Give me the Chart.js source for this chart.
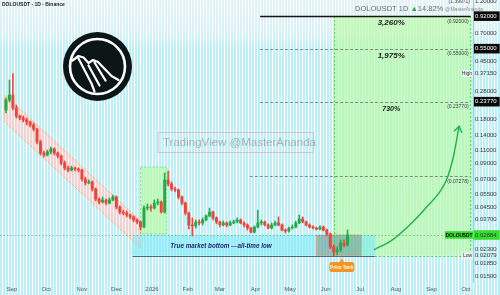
<!DOCTYPE html>
<html><head><meta charset="utf-8">
<script src="https://cdn.jsdelivr.net/npm/chart.js@4.4.1/dist/chart.umd.min.js"></script>
<style>html,body{margin:0;padding:0;background:#fff;}canvas{display:block;}</style>
</head><body>
<canvas id="c" width="500" height="295"></canvas>
<script>
// ---------- DATA ----------
const dates = ['2025-08-27','2025-08-30','2025-09-02','2025-09-05','2025-09-08','2025-09-11','2025-09-14','2025-09-17','2025-09-20','2025-09-23',
'2025-09-26','2025-09-29','2025-10-02','2025-10-05','2025-10-08','2025-10-11','2025-10-14','2025-10-17','2025-10-20','2025-10-23',
'2025-10-26','2025-10-29','2025-11-01','2025-11-04','2025-11-07','2025-11-10','2025-11-13','2025-11-16','2025-11-19','2025-11-22',
'2025-11-25','2025-11-28','2025-12-01','2025-12-04','2025-12-07','2025-12-10','2025-12-13','2025-12-16','2025-12-19','2025-12-22',
'2025-12-25','2025-12-28','2025-12-31','2026-01-03','2026-01-06','2026-01-09','2026-01-12','2026-01-15','2026-01-18','2026-01-21',
'2026-01-24','2026-01-27','2026-01-30','2026-02-02','2026-02-05','2026-02-08','2026-02-11','2026-02-14','2026-02-17','2026-02-20',
'2026-02-23','2026-02-26','2026-03-01','2026-03-04','2026-03-07','2026-03-10','2026-03-13','2026-03-16','2026-03-19','2026-03-22',
'2026-03-25','2026-03-28','2026-03-31','2026-04-03','2026-04-06','2026-04-09','2026-04-12','2026-04-15','2026-04-18','2026-04-21',
'2026-04-24','2026-04-27','2026-04-30','2026-05-03','2026-05-06','2026-05-09','2026-05-12','2026-05-15','2026-05-18','2026-05-21',
'2026-05-24','2026-05-27','2026-05-30','2026-06-02','2026-06-05','2026-06-08','2026-06-11','2026-06-14','2026-06-17','2026-06-20'];

const opens = [.2085,.2442,.2643,.2152,.1895,.1837,.1780,.1725,.1644,.1543,
.1257,.1056,.1023,.1073,.1125,.1056,.1007,.0901,.0833,.0807,
.0833,.0819,.0807,.0700,.0657,.0668,.0597,.0510,.0486,.0502,
.0478,.0502,.0526,.0449,.0415,.0408,.0396,.0384,.0366,.0355,
.0327,.0442,.0449,.0442,.0478,.0486,.0415,.0689,.0647,.0597,
.0588,.0526,.0478,.0408,.0338,.0333,.0355,.0349,.0366,.0390,
.0415,.0378,.0355,.0338,.0349,.0338,.0349,.0355,.0366,.0349,
.0338,.0322,.0302,.0327,.0349,.0355,.0338,.0322,.0338,.0349,
.0338,.0312,.0307,.0322,.0327,.0349,.0372,.0355,.0338,.0327,
.0322,.0317,.0327,.0312,.0293,.0239,.0221,.0228,.0254,.0246];

const highs = [.252,.335,.3715,.2256,.1926,.1895,.1837,.1752,.1697,.1568,
.1297,.1090,.1107,.1161,.1143,.1073,.1023,.0930,.0859,.0859,
.0846,.0833,.0819,.0722,.0689,.0678,.0607,.0518,.0526,.0510,
.0518,.0543,.0535,.0457,.0428,.0421,.0402,.0390,.0372,.0360,
.0457,.0471,.0464,.0502,.0510,.0494,.0770,.0794,.0668,.0616,
.0597,.0535,.0486,.0415,.0378,.0366,.0366,.0378,.0396,.0442,
.0421,.0384,.0360,.0360,.0355,.0360,.0366,.0378,.0372,.0355,
.0344,.0327,.0333,.0428,.0366,.0360,.0344,.0349,.0360,.0384,
.0344,.0317,.0327,.0338,.0360,.0396,.0384,.0360,.0344,.0333,
.0327,.0333,.0333,.0317,.0298,.0246,.0239,.0267,.0267,.0312];

const lows = [.1989,.2366,.2085,.1837,.1780,.1725,.1644,.1593,.1495,.1217,
.1023,.0991,.1007,.1040,.1023,.0976,.0873,.0807,.0782,.0794,
.0794,.0782,.0678,.0636,.0647,.0579,.0494,.0471,.0478,.0464,
.0471,.0494,.0435,.0402,.0396,.0384,.0372,.0355,.0344,.0312,
.0322,.0428,.0421,.0435,.0464,.0408,.0408,.0626,.0579,.0570,
.0510,.0464,.0396,.0317,.0284,.0322,.0338,.0338,.0360,.0384,
.0366,.0344,.0327,.0333,.0327,.0333,.0344,.0349,.0344,.0327,
.0312,.0298,.0298,.0322,.0338,.0333,.0317,.0317,.0333,.0333,
.0307,.0298,.0302,.0317,.0322,.0344,.0349,.0333,.0322,.0317,
.0312,.0312,.0307,.0284,.0233,.02079,.0210,.0221,.0239,.0242];

const closes = [.2442,.2643,.2152,.1895,.1837,.1780,.1725,.1644,.1543,.1257,
.1056,.1023,.1073,.1125,.1056,.1007,.0901,.0833,.0807,.0833,
.0819,.0807,.0700,.0657,.0668,.0597,.0510,.0486,.0502,.0478,
.0502,.0526,.0449,.0415,.0408,.0396,.0384,.0366,.0355,.0327,
.0442,.0449,.0442,.0478,.0486,.0415,.0689,.0647,.0597,.0588,
.0526,.0478,.0408,.0338,.0333,.0355,.0349,.0366,.0390,.0415,
.0378,.0355,.0338,.0349,.0338,.0349,.0355,.0366,.0349,.0338,
.0322,.0302,.0327,.0349,.0355,.0338,.0322,.0338,.0349,.0338,
.0312,.0307,.0322,.0327,.0349,.0372,.0355,.0338,.0327,.0322,
.0317,.0327,.0312,.0293,.0239,.0221,.0228,.0254,.0246,.02884];

const priceTicks = [0.92,0.7,0.55,0.45,0.3715,0.28,0.2377,0.18,0.14,0.11,0.09,0.07,0.055,0.045,0.037,0.02884,0.023,0.02079,0.0185,0.015];
const darkTicks = [0.92,0.55,0.2377];
const lastPrice = 0.02884;
const allTimeHigh = 0.3715;
const allTimeLow = 0.02079;
const monthDates = ['2025-09-01','2025-10-01','2025-11-01','2025-12-01','2026-01-01','2026-02-01','2026-03-01','2026-04-01','2026-05-01','2026-06-01','2026-07-01','2026-08-01','2026-09-01','2026-10-01'];
const monthLabels = ['Sep','Oct','Nov','Dec','2026','Feb','Mar','Apr','May','Jun','Jul','Aug','Sep','Oct'];

const channelDates = ['2025-08-26','2025-12-22'];
const channelTop = [0.264,0.0360];
const channelBottom = [0.1725,0.0235];
const greenBoxDates = ['2025-12-22','2026-01-14'];
const greenBoxRange = [0.0846,0.0293];
const bottomBoxDates = ['2025-12-15','2026-07-14'];
const bottomBoxRange = [0.02884,0.02079];
const greyBoxDates = ['2026-05-24','2026-07-02'];
const targetDates = ['2026-06-08','2026-10-05'];
const targetRange = [0.92,0.02079];
const fibLevels = [0.92,0.55,0.2377,0.07278];
const fibStarts = ['2026-04-05','2026-04-05','2026-04-05','2026-03-27'];
const fibGains = ['3,260%','1,975%','730%',''];
const gainDate = '2026-07-28';
const arrowDates = ['2026-07-13','2026-07-29','2026-08-13','2026-08-27','2026-09-14','2026-09-20','2026-09-25'];
const arrowValues = [0.0228,0.0267,0.0338,0.0442,0.0689,0.0991,0.1613];
const bottomText = 'True market bottom \u2014all-time low';
const bottomTextDate = '2026-03-02';
const tankDate = '2026-06-15';
const tankValue = 0.01738;

// ---------- helpers ----------
const DAY0 = Date.UTC(2025,8,1);
function dayOf(s){const p=s.split('-').map(Number);return (Date.UTC(p[0],p[1]-1,p[2])-DAY0)/864e5;}
const FONT = '"Liberation Sans", Arial, sans-serif';
const UP = '#22ab4a', DOWN = '#f0433a';
const candleColors = closes.map((c,i)=> c>=opens[i]?UP:DOWN);

const bgPlugin = {
  id:'bg',
  beforeDraw(chart){
    const ctx=chart.ctx, W=chart.width, H=chart.height;
    ctx.save();
    ctx.fillStyle='#ffffff'; ctx.fillRect(0,0,W,H);
    const g=ctx.createLinearGradient(0,0,0,H);
    g.addColorStop(0,'rgba(200,232,240,0.55)');
    g.addColorStop(0.11,'rgba(200,238,245,0.75)');
    g.addColorStop(0.16,'rgba(188,240,247,1)');
    g.addColorStop(1,'rgba(186,240,248,1)');
    ctx.fillStyle=g;
    for(let x=0;x<W;x+=3){ctx.fillRect(x,0,2,H);}
    ctx.restore();
  }
};

function PX(chart){const xs=chart.scales.x, ys=chart.scales.y;return {X:d=>xs.getPixelForValue(dayOf(d)),Y:v=>ys.getPixelForValue(v)};}

const shapesPlugin = {
  id:'shapes',
  beforeDatasetsDraw(chart){
    const ctx=chart.ctx, a=chart.chartArea, {X,Y}=PX(chart);
    ctx.save();
    ctx.beginPath(); ctx.rect(a.left,a.top,a.right-a.left,a.bottom-a.top); ctx.clip();
    let x1=X(targetDates[0]), x2=X(targetDates[1]), y1=Y(targetRange[0]), y2=Y(targetRange[1]);
    ctx.fillStyle='rgba(182,250,158,0.6)'; ctx.fillRect(x1,y1,x2-x1,y2-y1);
    // channel
    ctx.save();
    ctx.beginPath();
    ctx.moveTo(X(channelDates[0]),Y(channelTop[0]));
    ctx.lineTo(X(channelDates[1]),Y(channelTop[1]));
    ctx.lineTo(X(channelDates[1]),Y(channelBottom[1]));
    ctx.lineTo(X(channelDates[0]),Y(channelBottom[0]));
    ctx.closePath();
    ctx.fillStyle='rgba(246,206,206,0.85)'; ctx.fill();
    ctx.strokeStyle='rgba(255,165,90,0.85)'; ctx.lineWidth=0.8; ctx.stroke();
    ctx.clip();
    ctx.fillStyle='rgba(255,250,248,0.75)';
    for(let x=2;x<250;x+=3){ctx.fillRect(x,0,1,a.bottom);}
    ctx.restore();
    // green box
    x1=X(greenBoxDates[0]); x2=X(greenBoxDates[1]); y1=Y(greenBoxRange[0]); y2=Y(greenBoxRange[1]);
    ctx.fillStyle='rgba(185,250,165,0.7)'; ctx.fillRect(x1,y1,x2-x1,y2-y1);
    ctx.setLineDash([2,2]); ctx.strokeStyle='rgba(80,200,80,0.8)'; ctx.lineWidth=0.8; ctx.strokeRect(x1,y1,x2-x1,y2-y1); ctx.setLineDash([]);
    // bottom box
    x1=X(bottomBoxDates[0]); x2=X(bottomBoxDates[1]); y1=Y(bottomBoxRange[0]); y2=Y(bottomBoxRange[1]);
    ctx.fillStyle='rgba(120,232,250,0.55)'; ctx.fillRect(x1,y1,x2-x1,y2-y1);
    ctx.strokeStyle='#56657e'; ctx.lineWidth=1; ctx.beginPath(); ctx.moveTo(x1,Math.round(y2)+0.5); ctx.lineTo(x2,Math.round(y2)+0.5); ctx.stroke();
    // grey box
    x1=X(greyBoxDates[0]); x2=X(greyBoxDates[1]);
    ctx.fillStyle='rgba(115,110,90,0.38)'; ctx.fillRect(x1,y1,x2-x1,y2-y1);
    ctx.strokeStyle='rgba(230,150,110,0.7)'; ctx.lineWidth=0.8; ctx.strokeRect(x1,y1,x2-x1,y2-y1);
    // target borders
    x1=X(targetDates[0]); x2=X(targetDates[1]); const yb=Y(targetRange[1]), yt=Y(targetRange[0]);
    ctx.setLineDash([2,2]); ctx.strokeStyle='rgba(60,205,60,0.85)'; ctx.lineWidth=1;
    ctx.beginPath(); ctx.moveTo(Math.round(x1)+0.5,yt); ctx.lineTo(Math.round(x1)+0.5,yb);
    ctx.moveTo(Math.round(x2)-0.5,yt); ctx.lineTo(Math.round(x2)-0.5,yb);
    ctx.moveTo(X(bottomBoxDates[1]),Math.round(yb)+0.5); ctx.lineTo(x2,Math.round(yb)+0.5); ctx.stroke();
    fibLevels.forEach((lv,i)=>{
      const y=Math.round(Y(lv))+0.5, xs=X(fibStarts[i]);
      if(i===0){ctx.setLineDash([]); ctx.strokeStyle='#151515'; ctx.lineWidth=1.5;}
      else {ctx.setLineDash([3,2]); ctx.strokeStyle='rgba(90,90,90,0.85)'; ctx.lineWidth=0.8;}
      ctx.beginPath(); ctx.moveTo(xs,y); ctx.lineTo(x2,y); ctx.stroke();
    });
    ctx.setLineDash([1.5,2]); ctx.strokeStyle='rgba(70,170,80,0.8)'; ctx.lineWidth=0.8;
    const yp=Math.round(Y(lastPrice))+0.5;
    ctx.beginPath(); ctx.moveTo(a.left,yp); ctx.lineTo(a.right,yp); ctx.stroke();
    ctx.restore();
  },
  afterDatasetsDraw(chart){
    const ctx=chart.ctx, a=chart.chartArea, {X,Y}=PX(chart);
    ctx.save();
    const pts=chart.getDatasetMeta(2).data; const p1=pts[pts.length-1], p0=pts[pts.length-2];
    const ang=Math.atan2(p1.y-p0.y,p1.x-p0.x);
    ctx.strokeStyle='#20b24a'; ctx.lineWidth=1.4; ctx.beginPath();
    ctx.moveTo(p1.x-7*Math.cos(ang-0.6),p1.y-7*Math.sin(ang-0.6)); ctx.lineTo(p1.x,p1.y);
    ctx.lineTo(p1.x-7*Math.cos(ang+0.6),p1.y-7*Math.sin(ang+0.6)); ctx.stroke();
    const xr=X(targetDates[1])-2, xg=X(gainDate);
    ctx.textBaseline='middle';
    fibLevels.forEach((lv,i)=>{
      const y=Y(lv);
      ctx.fillStyle='#3a3a3a'; ctx.font='5px '+FONT; ctx.textAlign='right';
      ctx.fillText('('+lv.toFixed(5)+')', xr, y+5);
      if(fibGains[i]){
        ctx.fillStyle='#1e1e1e'; ctx.font='italic bold '+(i===2?7:8)+'px '+FONT; ctx.textAlign='center';
        ctx.fillText(fibGains[i], xg, y+7);
      }
    });
    ctx.fillStyle='#1d2b6e'; ctx.font='italic 600 6.3px '+FONT; ctx.textAlign='center';
    ctx.fillText(bottomText, X(bottomTextDate), (Y(bottomBoxRange[0])+Y(bottomBoxRange[1]))/2+0.5);
    const tx=X(tankDate), ty=Y(tankValue);
    ctx.fillStyle='#f7941d';
    ctx.beginPath(); ctx.roundRect(tx-12.5,ty-5,25,10,2); ctx.fill();
    ctx.beginPath(); ctx.moveTo(tx-2,ty-5); ctx.lineTo(tx,ty-9); ctx.lineTo(tx+2,ty-5); ctx.fill();
    ctx.fillStyle='#fff'; ctx.font='bold 4.6px '+FONT; ctx.fillText('Price Tank', tx, ty+0.3);
    ctx.font='5px '+FONT; ctx.textAlign='center';
    let y=Y(allTimeHigh);
    ctx.fillStyle='rgba(235,240,242,0.95)'; ctx.fillRect(a.right-12,y-3.5,12,7);
    ctx.fillStyle='#333'; ctx.fillText('High', a.right-6, y);
    y=Y(allTimeLow);
    ctx.fillStyle='rgba(235,240,242,0.95)'; ctx.fillRect(a.right-11,y-3.5,11,7);
    ctx.fillStyle='#333'; ctx.fillText('Low', a.right-5.5, y);
    y=Y(lastPrice);
    ctx.fillStyle='#35de2e'; ctx.fillRect(a.right-28,y-3.8,28,7.6);
    ctx.fillStyle='#0a0a0a'; ctx.font='bold 4.8px '+FONT; ctx.fillText('DOLOUSDT', a.right-14, y+0.2);
    ctx.strokeStyle='rgba(180,190,195,0.9)'; ctx.lineWidth=1;
    ctx.beginPath(); ctx.moveTo(Math.round(a.right)+0.5,0); ctx.lineTo(Math.round(a.right)+0.5,a.bottom); ctx.stroke();
    // logo
    const cx=97.5, cy=66.5;
    ctx.fillStyle='#0c1616'; ctx.beginPath(); ctx.arc(cx,cy,34.5,0,Math.PI*2); ctx.fill();
    ctx.strokeStyle='#ffffff'; ctx.lineWidth=2.6; ctx.beginPath(); ctx.arc(cx,cy,27.5,0,Math.PI*2); ctx.stroke();
    ctx.lineWidth=2.2; ctx.lineJoin='round'; ctx.lineCap='round';
    ctx.beginPath();
    ctx.moveTo(cx-25,cy-6); ctx.lineTo(cx-19,cy-10.5); ctx.lineTo(cx-14,cy-9); ctx.lineTo(cx-9,cy-3.5);
    ctx.lineTo(cx-4.5,cy-6.5); ctx.lineTo(cx+0.5,cy-4.5); ctx.lineTo(cx+14,cy+9.5); ctx.lineTo(cx+21,cy+13.5);
    ctx.moveTo(cx-19,cy-8); ctx.lineTo(cx-6,cy+17); ctx.lineTo(cx-3,cy+25);
    ctx.moveTo(cx-9,cy-1); ctx.lineTo(cx+2,cy+19);
    ctx.moveTo(cx-3,cy-4); ctx.lineTo(cx+8,cy+14);
    ctx.stroke();
    // watermark
    ctx.strokeStyle='rgba(215,180,185,0.8)'; ctx.lineWidth=1; ctx.strokeRect(158.5,132.5,155,20);
    ctx.fillStyle='rgba(150,150,155,0.75)'; ctx.font='11.5px '+FONT; ctx.textAlign='left';
    ctx.fillText('TradingView @MasterAnanda', 163, 143);
    // titles
    ctx.font='bold 5px '+FONT; ctx.fillStyle='#222'; ctx.fillText('DOLOUSDT \u00b7 1D \u00b7 Binance', 2, 5);
    let tx0=355; ctx.font='7.5px '+FONT; ctx.fillStyle='#6a6a6a';
    ctx.fillText('DOLOUSDT 1D', tx0, 9); tx0+=ctx.measureText('DOLOUSDT 1D ').width;
    ctx.fillStyle='#22ab4a'; ctx.fillText('\u25b2', tx0, 9); tx0+=ctx.measureText('\u25b2').width;
    ctx.fillStyle='#6a6a6a'; ctx.fillText('14.82%', tx0, 9); tx0+=ctx.measureText('14.82% ').width;
    ctx.font='5px '+FONT; ctx.fillStyle='#8a8a8a'; ctx.fillText('@MasterAnanda', tx0, 9.5);
    ctx.font='5px '+FONT; ctx.fillStyle='#444'; ctx.textAlign='right'; ctx.fillText('(1.39971)', 470, 2);
    ctx.textAlign='left'; ctx.font='6px '+FONT; ctx.fillStyle='#333'; ctx.fillText('1.20000', 475, 1.5);
    ctx.restore();
  }
};

const xDays = dates.map(dayOf);
new Chart(document.getElementById('c'), {
  type:'bar',
  data:{
    datasets:[
      {label:'wick', data:xDays.map((x,i)=>({x, y:[lows[i],highs[i]]})), backgroundColor:candleColors, barThickness:0.9, grouped:false, order:2},
      {label:'body', data:xDays.map((x,i)=>({x, y:[opens[i],closes[i]]})), backgroundColor:candleColors, barThickness:2.3, grouped:false, order:1, minBarLength:0.8},
      {type:'line', label:'arrow', data:arrowDates.map((d,i)=>({x:dayOf(d), y:arrowValues[i]})), borderColor:'#20b24a', borderWidth:1.4, pointRadius:0, cubicInterpolationMode:'monotone', fill:false, order:0}
    ]
  },
  options:{
    responsive:false, animation:false, devicePixelRatio:1,
    layout:{padding:0},
    plugins:{legend:{display:false}, tooltip:{enabled:false}},
    scales:{
      x:{type:'linear', min:-10.2, max:401.1, offset:false,
        grid:{display:false, drawTicks:false, offset:false}, border:{display:false},
        afterBuildTicks:s=>{s.ticks=monthDates.map(d=>({value:dayOf(d)}));},
        afterFit:s=>{s.height=12; s.paddingLeft=0; s.paddingRight=0;},
        ticks:{autoSkip:false, maxRotation:0, padding:3, color:'#555', font:{size:6, family:FONT},
          callback:(v,i)=>monthLabels[i]}},
      y:{type:'logarithmic', position:'right', min:0.01349, max:1.188,
        grid:{display:false, drawTicks:false}, border:{display:false},
        afterBuildTicks:s=>{s.ticks=priceTicks.map(v=>({value:v}));},
        afterFit:s=>{s.width=27; s.paddingTop=0; s.paddingBottom=0;},
        ticks:{autoSkip:false, padding:2, font:{size:6, family:FONT},
          color:c=> darkTicks.includes(c.tick.value)?'#ffffff':'#333',
          showLabelBackdrop:c=> darkTicks.includes(c.tick.value)||c.tick.value===lastPrice,
          backdropColor:c=> c.tick.value===lastPrice?'#35de2e':'#0b0b0b',
          backdropPadding:{left:2,right:3,top:1.2,bottom:1.2},
          callback:v=>Number(v).toFixed(5)}}
    }
  },
  plugins:[bgPlugin, shapesPlugin]
});
</script>
</body></html>
